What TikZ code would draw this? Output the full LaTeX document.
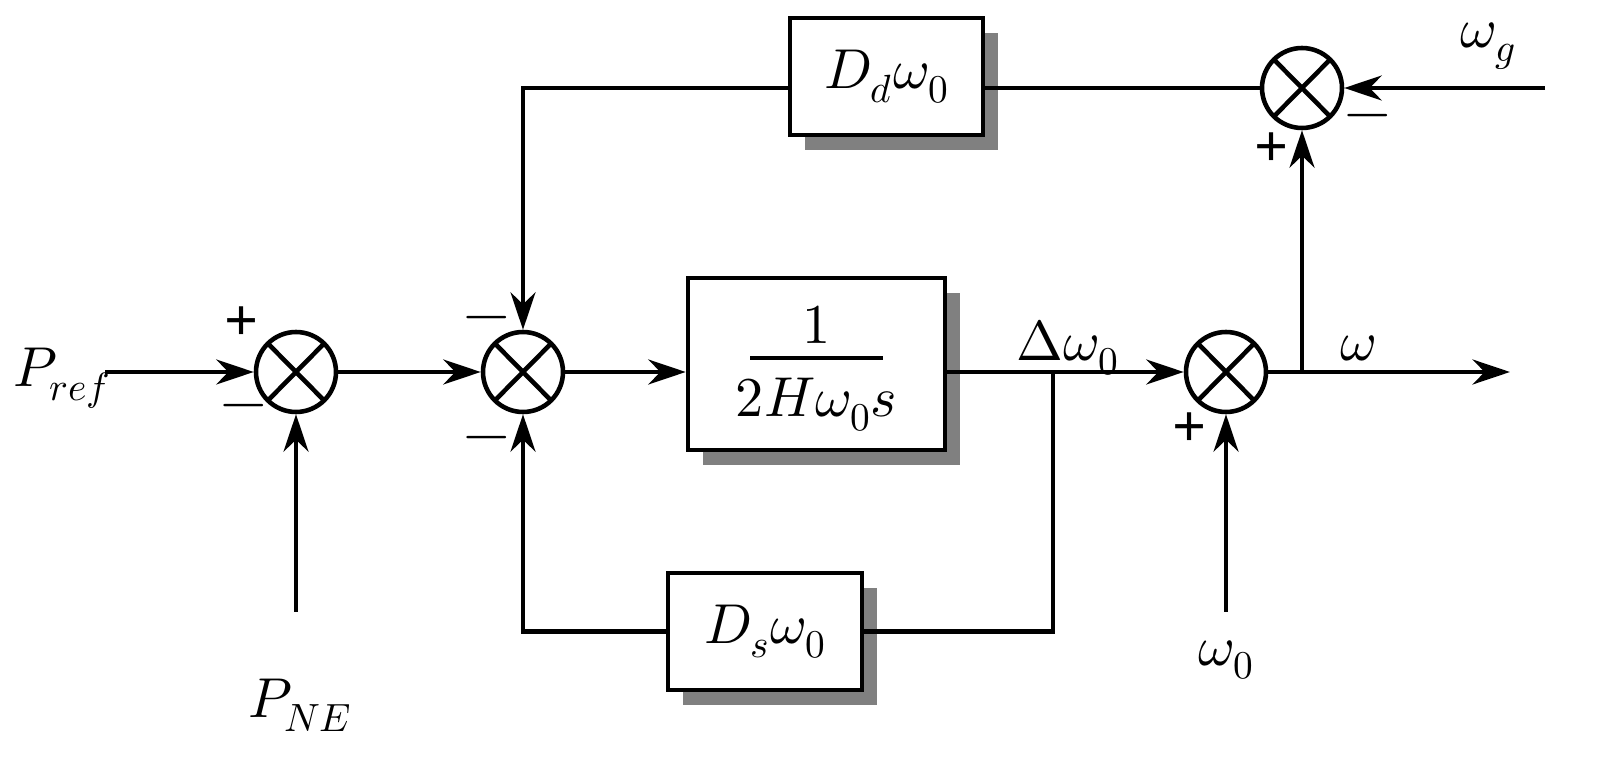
\documentclass[tikz,border=0pt]{standalone}
\usepackage{fontspec}
\setmainfont{Liberation Serif}
\usepackage{unicode-math}
\setmathfont{Latin Modern Math}
\usetikzlibrary{arrows.meta}
\begin{document}
\begin{tikzpicture}[x=0.02cm,y=-0.02cm,line width=2.6pt,
  sum/.style={circle,draw,minimum size=1.6cm,inner sep=0pt,path picture={
     \draw[line width=2.6pt] (path picture bounding box.north west)++(0.28,-0.28) -- ([shift={(-0.28,0.28)}]path picture bounding box.south east);
     \draw[line width=2.6pt] ([shift={(0.28,0.28)}]path picture bounding box.south west) -- ([shift={(-0.28,-0.28)}]path picture bounding box.north east);}},
  blk/.style={draw,fill=white,inner sep=0pt},
  arr/.style={-{Stealth[length=0.75cm,width=0.5cm]}},
  lbl/.style={font=\fontsize{32}{38}\selectfont},
  sg/.style={font=\fontsize{34}{40}\selectfont\bfseries}]
\useasboundingbox (0,0) rectangle (1624,773);
% shadows
\fill[gray] (703,293) rectangle (960,465);
\fill[gray] (805,33) rectangle (998,150);
\fill[gray] (683,588) rectangle (877,705);
\node[blk,minimum width=5.14cm,minimum height=3.44cm] (G) at (816.5,364) {};
\node[lbl] at (816.5,325) {$1$};
\draw[line width=2pt] (750,358) -- (883,358);
\node[lbl] at (816.5,405) {$2H\omega_0 s$};
\node[blk,minimum width=3.86cm,minimum height=2.34cm,lbl] (Dd) at (886.5,76.5) {$D_d\omega_0$};
\node[blk,minimum width=3.88cm,minimum height=2.34cm,lbl] (Ds) at (765,631.5) {$D_s\omega_0$};
\node[sum] (S1) at (296,372) {};
\node[sum] (S2) at (523,372) {};
\node[sum] (S3) at (1226,372) {};
\node[sum] (S4) at (1302,88) {};
\node[lbl] (Pref) at (62,378) {$P_{ref}$};
\node[lbl] (PNE) at (300,705) {$P_{NE}$};
\node[lbl] (wg) at (1488,46) {$\omega_g$};
\node[lbl] (w0) at (1226,660) {$\omega_0$};
\node[lbl] at (1068,348) {$\Delta\omega_0$};
\node[lbl] at (1358,348) {$\omega$};
\coordinate (a) at (105,372);
\coordinate (b) at (296,612);
\coordinate (c) at (1226,612);
\coordinate (d) at (1545,88);
\coordinate (e) at (1510,372);
\coordinate (br) at (1053,372);
\coordinate (bw) at (1302,372);
\draw[arr] (a) -- (S1);
\draw[arr] (b) -- (S1);
\draw[arr] (S1) -- (S2);
\draw[arr] (S2) -- (S2 -| G.west);
\draw[arr] (S3 -| G.east) -- (S3);
\draw[arr] (c) -- (S3);
\draw[arr] (S3) -- (e);
\draw[arr] (bw) -- (S4);
\draw[arr] (d) -- (S4);
\draw (S4) -- (S4 -| Dd.east);
\draw[arr] (S4 -| Dd.west) -| (S2.north);
\draw (br) |- (Ds.east);
\draw[arr] (Ds.west) -| (S2.south);
\node[sg] at (242,324) {+};
\node[sg] at (244,412) {$-$};
\node[sg] at (487,324) {$-$};
\node[sg] at (487,444) {$-$};
\node[sg] at (1190,430) {+};
\node[sg] at (1272,150) {+};
\node[sg] at (1368,122) {$-$};
\end{tikzpicture}
\end{document}
